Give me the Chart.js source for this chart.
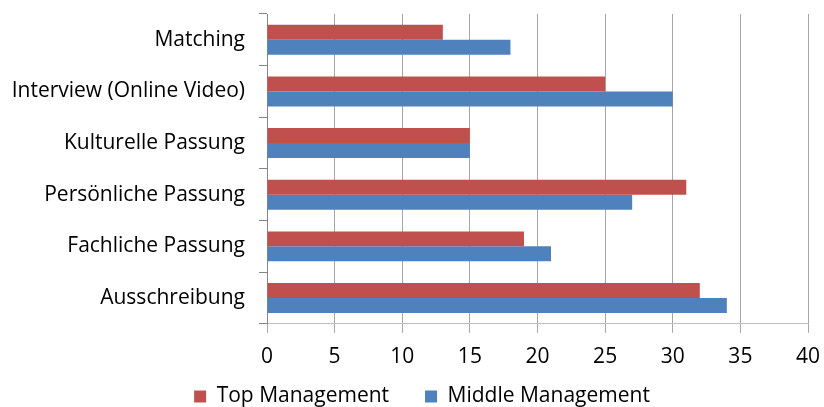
<!DOCTYPE html>
<html lang="de">

<head>
    <meta charset="UTF-8" />
    <title>Auswahlkriterien</title>
    <script src="https://cdn.jsdelivr.net/npm/chart.js@4"></script>
    <style type="text/css">
        body {
            margin: 0;
            background: #fff;
        }
    </style>
</head>

<body>
    <canvas id="myChart" width="824" height="407"></canvas>

    <script>
        // values
        const categories = ['Matching', 'Interview (Online Video)', 'Kulturelle Passung',
            'Persönliche Passung', 'Fachliche Passung', 'Ausschreibung'];
        const topManagement = [13, 25, 15, 31, 19, 32];
        const middleManagement = [18, 30, 15, 27, 21, 34];
        const xTicks = [0, 5, 10, 15, 20, 25, 30, 35, 40];

        const font = { family: '"Open Sans", sans-serif', size: 21 };

        // legend: wide gaps between the items, but short; its box is moved
        // up and right a bit (bottom kept, the legend clips to its own box)
        const legendLayout = {
            id: 'legendLayout',
            beforeInit(chart) {
                const fit = chart.legend.fit;
                chart.legend.fit = function () {
                    fit.call(this);
                    this.height = 25;
                };
            },
            afterLayout(chart) {
                chart.legend.top -= 32;
                chart.legend.left += 18;
                chart.legend.right += 18;
            }
        };

        const ctx = document.getElementById('myChart').getContext('2d');
        const myChart = new Chart(ctx, {
            type: 'bar',
            data: {
                labels: categories,
                datasets: [{
                    label: 'Top Management',
                    data: topManagement,
                    backgroundColor: '#C0504D',
                    borderWidth: 0
                }, {
                    label: 'Middle Management',
                    data: middleManagement,
                    backgroundColor: '#4F81BD',
                    borderWidth: 0
                }]
            },
            options: {
                indexAxis: 'y',
                responsive: false,
                animation: false,
                layout: {
                    padding: { left: 0, right: 16, top: 14, bottom: 0 }
                },
                datasets: {
                    bar: { categoryPercentage: 0.58, barPercentage: 1 }
                },
                scales: {
                    x: {
                        min: 0,
                        max: 40,
                        afterBuildTicks: (scale) => {
                            scale.ticks = xTicks.map(v => ({ value: v }));
                        },
                        afterFit: (scale) => {
                            scale.paddingLeft = 0;
                            scale.paddingRight = 0;
                        },
                        grid: {
                            color: '#a6a6a6',
                            tickLength: 9
                        },
                        border: { color: '#bfbfbf' },
                        ticks: {
                            color: '#000',
                            font: font,
                            padding: 12
                        }
                    },
                    y: {
                        afterFit: (scale) => {
                            scale.width = 267;
                            scale.paddingTop = 0;
                            scale.paddingBottom = 0;
                        },
                        grid: {
                            drawOnChartArea: false,
                            color: '#868686',
                            tickLength: 8
                        },
                        border: { color: '#868686' },
                        ticks: {
                            color: '#000',
                            font: font,
                            padding: 14
                        }
                    }
                },
                plugins: {
                    legend: {
                        position: 'bottom',
                        labels: {
                            color: '#000',
                            font: font,
                            boxWidth: 12,
                            boxHeight: 12,
                            padding: 36
                        }
                    },
                    tooltip: { enabled: false }
                }
            },
            plugins: [legendLayout]
        });
    </script>
</body>

</html>
